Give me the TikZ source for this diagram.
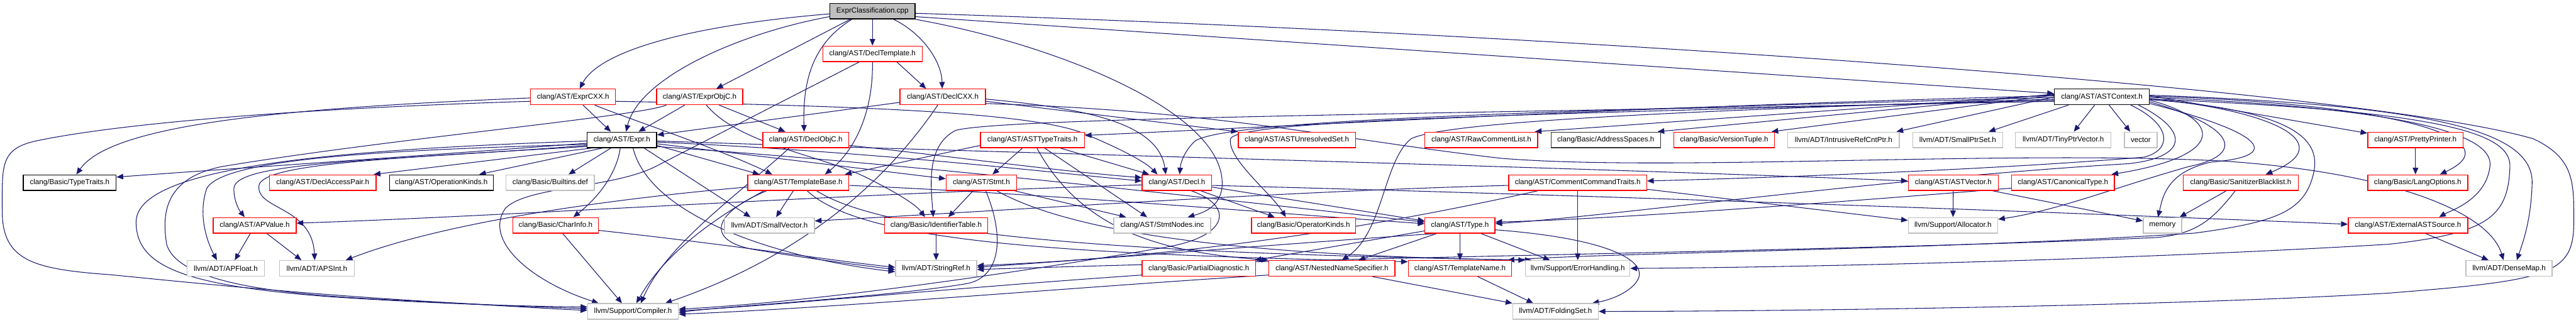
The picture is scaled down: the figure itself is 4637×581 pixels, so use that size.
\documentclass[tikz,border=0pt]{standalone}
\usepackage{fontspec}
\newfontfamily\lab{Liberation Sans}
\usetikzlibrary{arrows.meta}
\definecolor{edgec}{HTML}{191970}
\definecolor{grayb}{HTML}{BFBFBF}
\definecolor{rootf}{HTML}{BFBFBF}
\pgfdeclarelayer{bgfill}
\pgfdeclarelayer{edges}
\pgfsetlayers{bgfill,edges,main}
\begin{document}
\begin{tikzpicture}[x=1pt,y=-1pt,
  box/.style={draw, fill=white, line width=1.6pt, minimum height=28pt, inner sep=0pt, font=\lab\fontsize{13.2}{15}\selectfont, text=black},
  rbox/.style={box, draw=red},
  gbox/.style={box, draw=grayb},
  kbox/.style={box, draw=black},
  e/.style={draw=edgec, line width=1.2pt, -{Triangle[length=12pt,width=10pt]}}]
\begin{pgfonlayer}{bgfill}
\fill[white] (0,0) rectangle (4637,581);
\end{pgfonlayer}
\useasboundingbox (0,0) rectangle (4637,581);
% row 0
\node[kbox, fill=rootf, minimum width=153pt] (root) at (1570.5,20) {ExprClassification.cpp};
% row 1
\node[rbox, minimum width=179pt] (dtpl) at (1570.5,97) {clang/AST/DeclTemplate.h};
% row 2
\node[rbox, minimum width=153pt] (ecxx) at (1031.5,174.5) {clang/AST/ExprCXX.h};
\node[rbox, minimum width=155pt] (eobjc) at (1259.5,174.5) {clang/AST/ExprObjC.h};
\node[rbox, minimum width=154pt] (dcxx) at (1697,174.5) {clang/AST/DeclCXX.h};
\node[kbox, minimum width=171pt] (astctx) at (3783.5,174.5) {clang/AST/ASTContext.h};
% row 3
\node[kbox, minimum width=125pt] (expr) at (1119.5,252) {clang/AST/Expr.h};
\node[rbox, minimum width=155pt] (dobjc) at (1450.5,252) {clang/AST/DeclObjC.h};
\node[rbox, minimum width=187pt] (asttt) at (1858.5,252) {clang/AST/ASTTypeTraits.h};
\node[rbox, minimum width=211pt] (aus) at (2334.5,252) {clang/AST/ASTUnresolvedSet.h};
\node[rbox, minimum width=203pt] (rcl) at (2666.5,252) {clang/AST/RawCommentList.h};
\node[kbox, draw=black!80, minimum width=197pt] (addr) at (2890.5,252) {clang/Basic/AddressSpaces.h};
\node[rbox, minimum width=181pt] (vtup) at (3103.5,252) {clang/Basic/VersionTuple.h};
\node[gbox, minimum width=201pt] (irc) at (3318.5,252) {llvm/ADT/IntrusiveRefCntPtr.h};
\node[gbox, minimum width=162pt] (sps) at (3524,252) {llvm/ADT/SmallPtrSet.h};
\node[gbox, minimum width=172pt] (tpv) at (3714,252) {llvm/ADT/TinyPtrVector.h};
\node[gbox, minimum width=59pt] (vec) at (3853.5,252) {vector};
\node[rbox, minimum width=172pt] (pp) at (4348,252) {clang/AST/PrettyPrinter.h};
% row 4
\node[kbox, minimum width=167pt] (tt) at (125.5,329) {clang/Basic/TypeTraits.h};
\node[rbox, minimum width=192pt] (dap) at (581,329) {clang/AST/DeclAccessPair.h};
\node[kbox, minimum width=187pt] (opk) at (794.5,329) {clang/AST/OperationKinds.h};
\node[gbox, minimum width=159pt] (bdef) at (990.5,329) {clang/Basic/Builtins.def};
\node[rbox, minimum width=182pt] (tb) at (1437,329) {clang/AST/TemplateBase.h};
\node[rbox, minimum width=127pt] (stmt) at (1766.5,329) {clang/AST/Stmt.h};
\node[rbox, minimum width=125pt] (decl) at (2118.5,329) {clang/AST/Decl.h};
\node[rbox, minimum width=248pt] (cct) at (2840,329) {clang/AST/CommentCommandTraits.h};
\node[rbox, minimum width=162pt] (astv) at (3516,329) {clang/AST/ASTVector.h};
\node[rbox, minimum width=185pt] (cant) at (3713.5,329) {clang/AST/CanonicalType.h};
\node[rbox, minimum width=207pt] (sbl) at (4033.5,329) {clang/Basic/SanitizerBlacklist.h};
\node[rbox, minimum width=180pt] (lopt) at (4352,329) {clang/Basic/LangOptions.h};
% row 5
\node[rbox, minimum width=149pt] (apv) at (458.5,406) {clang/AST/APValue.h};
\node[rbox, minimum width=154pt] (chi) at (1000,406) {clang/Basic/CharInfo.h};
\node[gbox, minimum width=162pt] (svec) at (1385,406) {llvm/ADT/SmallVector.h};
\node[rbox, minimum width=186pt] (idt) at (1685,406) {clang/Basic/IdentifierTable.h};
\node[gbox, minimum width=174pt] (sni) at (2092,406) {clang/AST/StmtNodes.inc};
\node[rbox, minimum width=187pt] (ork) at (2346.5,406) {clang/Basic/OperatorKinds.h};
\node[rbox, minimum width=126pt] (type) at (2628,406) {clang/AST/Type.h};
\node[gbox, minimum width=161pt] (alloc) at (3515.5,406) {llvm/Support/Allocator.h};
\node[gbox, minimum width=69pt] (mem) at (3892.5,406) {memory};
\node[rbox, minimum width=215pt] (ext) at (4334.5,406) {clang/AST/ExternalASTSource.h};
% row 6
\node[gbox, minimum width=139pt] (apf) at (406.5,483.5) {llvm/ADT/APFloat.h};
\node[gbox, minimum width=135pt] (aps) at (570.5,483.5) {llvm/ADT/APSInt.h};
\node[gbox, minimum width=146pt] (sref) at (1685,483.5) {llvm/ADT/StringRef.h};
\node[rbox, minimum width=204pt] (pdiag) at (2158,483.5) {clang/Basic/PartialDiagnostic.h};
\node[rbox, minimum width=227pt] (nns) at (2397.5,483.5) {clang/AST/NestedNameSpecifier.h};
\node[rbox, minimum width=186pt] (tname) at (2628,483.5) {clang/AST/TemplateName.h};
\node[gbox, minimum width=188pt] (errh) at (2840,483.5) {llvm/Support/ErrorHandling.h};
\node[gbox, minimum width=155pt] (dmap) at (4516.5,483.5) {llvm/ADT/DenseMap.h};
% row 7
\node[gbox, minimum width=163pt] (comp) at (1139.5,561) {llvm/Support/Compiler.h};
\node[gbox, minimum width=154pt] (fset) at (2800,561) {llvm/ADT/FoldingSet.h};

\begin{pgfonlayer}{edges}
% ---- root
\draw[e] ([yshift=-5pt]root.west) .. controls (1250,45) and (1080,90) .. ([xshift=12pt]ecxx.north);
\draw[e] ([yshift=-10pt]root.west) .. controls (1330,60) and (1150,140) .. ([xshift=7.5pt]expr.north);
\draw[e] ([xshift=-40pt]root.south) -- ([xshift=30pt]eobjc.north);
\draw[e] ([xshift=-37pt]root.south) .. controls (1460,80) and (1445,150) .. ([xshift=-3pt]dobjc.north);
\draw[e] (root.south) -- (dtpl.north);
\draw[e] ([xshift=38pt]root.south) .. controls (1660,60) and (1695,110) .. ([xshift=-1pt]dcxx.north);
\draw[e] ([yshift=-10pt]root.east) -- ([yshift=6pt]astctx.west);
\draw[e] ([yshift=-4pt]root.east) .. controls (2800,60) and (4250,160) .. (4560,250) .. controls (4635,285) and (4633,330) .. (4633,400) .. controls (4633,495) and (4590,505) .. (4300,528) .. controls (3900,552) and (3200,561) .. (fset.east);
\draw[e] (root.south east) .. controls (1900,80) and (2200,200) .. (2200,330) .. controls (2200,370) and (2170,382) .. ([xshift=46pt]sni.north);
% ---- DeclTemplate
\draw[e] ([xshift=44pt]dtpl.south) -- ([xshift=-30pt]dcxx.north);
\draw[e] (dtpl.south) .. controls (1572,200) and (1540,270) .. ([xshift=48pt]tb.north);
\draw[e] ([xshift=-24pt]dtpl.south) -- (1180,300) .. controls (1100,340) and (950,335) .. (910,375) .. controls (870,430) and (950,505) .. ([xshift=-62pt]comp.north);
% ---- ExprCXX
\draw[e] ([xshift=18pt]ecxx.south) -- ([xshift=-20pt]expr.north);
\draw[e] ([yshift=-2pt]ecxx.west) .. controls (500,195) and (200,225) .. ([xshift=12pt]tt.north);
\draw[e] ([yshift=-8pt]ecxx.west) .. controls (400,200) and (150,235) .. (60,255) .. controls (0,270) and (4,300) .. (4,380) .. controls (4,470) and (60,485) .. (200,495) .. controls (400,515) and (700,545) .. ([yshift=5pt]comp.west);
\draw[e] ([yshift=-8pt]ecxx.east) .. controls (1500,190) and (1850,200) .. (1950,240) .. controls (2010,265) and (2060,290) .. ([xshift=-35pt]decl.north);
\draw[e] ([xshift=39pt]ecxx.south) .. controls (1120,210) and (1300,270) .. ([xshift=-47pt]tb.north);
% ---- ExprObjC
\draw[e] ([xshift=-27pt]eobjc.south) -- ([xshift=30pt]expr.north);
\draw[e] ([xshift=35pt]eobjc.south) -- ([xshift=-37pt]dobjc.north);
\draw[e] ([xshift=12pt]eobjc.south) .. controls (1330,260) and (1480,280) .. (1560,320) .. controls (1620,350) and (1650,370) .. ([xshift=-20pt]idt.north);
\draw[e] ([xshift=-60pt]eobjc.south) .. controls (1150,210) and (700,250) .. (400,300) .. controls (300,320) and (290,380) .. (300,440) .. controls (320,510) and (500,530) .. (700,540) .. controls (900,550) and (1000,557) .. ([yshift=2pt]comp.west);
% ---- DeclCXX
\draw[e] ([yshift=-10pt]dcxx.west) -- ([yshift=9pt]expr.east);
\draw[e] ([xshift=-9pt]dcxx.south) .. controls (1600,320) and (1450,460) .. ([xshift=58pt]comp.north);
\draw[e] ([yshift=-4pt]dcxx.east) .. controls (1950,195) and (2085,220) .. ([xshift=-20pt]decl.north);
\draw[e] ([yshift=-8pt]dcxx.east) -- (aus.north west);
\draw[e] ([yshift=-12pt]dcxx.east) .. controls (2200,200) and (2400,250) .. (2700,285) .. controls (3000,310) and (3600,270) .. (4000,290) .. controls (4300,310) and (4480,380) .. ([xshift=-10pt]dmap.north);
% ---- DeclObjC
\draw[e] ([xshift=-30pt]dobjc.south) .. controls (1330,350) and (1200,440) .. ([xshift=14pt]comp.north);
\draw[e] ([yshift=-10pt]dobjc.east) .. controls (1700,280) and (1900,308) .. ([yshift=9pt]decl.west);
% ---- Expr
\draw[e] ([yshift=-6pt]expr.west) .. controls (700,285) and (400,305) .. ([yshift=10pt]tt.east);
\draw[e] ([xshift=-55pt]expr.south) -- ([xshift=-5pt]dap.north east);
\draw[e] ([xshift=-35pt]expr.south) -- ([xshift=68pt]opk.north);
\draw[e] ([xshift=-20pt]expr.south) -- ([xshift=33pt]bdef.north);
\draw[e] ([yshift=-10pt]expr.west) .. controls (700,290) and (420,290) .. (421,340) .. controls (421,362) and (430,378) .. ([xshift=-18pt]apv.north);
\draw[e] ([yshift=-8pt]expr.west) .. controls (700,270) and (400,285) .. (372,340) .. controls (355,390) and (375,440) .. ([xshift=-16pt]apf.north);
\draw[e] ([yshift=-12pt]expr.west) .. controls (700,285) and (470,295) .. (466,335) .. controls (462,378) and (562,372) .. ([xshift=-4pt]aps.north);
\draw[e] ([xshift=-3pt]expr.south) .. controls (1112,300) and (1090,345) .. ([xshift=32pt]chi.north);
\draw[e] ([xshift=40pt]expr.south) -- ([xshift=-34pt]svec.north);
\draw[e] ([yshift=-10pt]expr.east) -- ([xshift=-70pt]tb.north);
\draw[e] ([yshift=-7pt]expr.east) -- ([yshift=7pt]stmt.west);
\draw[e] ([yshift=-4pt]expr.east) .. controls (1600,275) and (1900,312) .. ([yshift=3pt]decl.west);
\draw[e] ([yshift=-2pt]expr.east) .. controls (1800,275) and (2800,300) .. ([yshift=3pt]astv.west);
\draw[e] ([yshift=-12pt]expr.east) .. controls (1700,300) and (2200,360) .. ([yshift=6pt]type.west);
\draw[e] ([xshift=20pt]expr.south) .. controls (1170,390) and (1400,465) .. ([yshift=-6pt]sref.west);
\draw[e] ([yshift=-2pt]expr.west) .. controls (600,270) and (245,300) .. (245,400) .. controls (245,480) and (330,515) .. (600,535) .. controls (800,548) and (950,552) .. ([yshift=8pt]comp.west);
% ---- TemplateBase
\draw[e] ([xshift=-9pt]tb.south) -- ([xshift=12pt]svec.north);
\draw[e] ([xshift=-57pt]tb.south) .. controls (1280,385) and (1270,435) .. (1360,450) .. controls (1450,465) and (1550,478) .. ([yshift=-2pt]sref.west);
\draw[e] ([xshift=-62pt]tb.south) .. controls (1300,385) and (1200,450) .. ([xshift=6pt]comp.north);
\draw[e] ([yshift=-8pt]tb.west) .. controls (1100,358) and (800,400) .. ([xshift=52pt]aps.north);
\draw[e] ([yshift=-5pt]tb.east) .. controls (1900,350) and (2300,385) .. ([yshift=3pt]type.west);
\draw[e] ([xshift=16pt]tb.south) .. controls (1550,435) and (1900,458) .. ([yshift=12pt]tname.west);
\draw[e] ([xshift=33pt]tb.south) .. controls (1620,440) and (2200,458) .. (errh.north west);
% ---- ASTTypeTraits
\draw[e] ([xshift=-18pt]asttt.south) -- ([xshift=20pt]stmt.north);
\draw[e] ([xshift=8pt]asttt.south) .. controls (1950,420) and (2100,455) .. (nns.north west);
\draw[e] ([xshift=22pt]asttt.south) -- ([xshift=-27pt]sni.north);
\draw[e] ([xshift=50pt]asttt.south) -- ([xshift=-50pt]decl.north);
\draw[e] ([yshift=-10pt]asttt.west) -- ([xshift=-8pt]tb.north east);
% ---- Stmt
\draw[e] ([xshift=-15pt]stmt.south) -- ([xshift=22pt]idt.north);
\draw[e] ([xshift=8pt]stmt.south) .. controls (1810,430) and (1800,500) .. (1740,511) .. controls (1600,535) and (1300,552) .. ([yshift=-2pt]comp.east);
\draw[e] ([xshift=60pt]stmt.south) -- ([xshift=-65pt]sni.north);
\draw[e] ([xshift=28pt]stmt.south) .. controls (1950,430) and (2300,462) .. ([xshift=12pt]errh.north west);
% ---- Decl
\draw[e] ([xshift=26pt]decl.south) .. controls (2220,370) and (2215,425) .. (2100,445) .. controls (1900,480) and (1500,542) .. ([yshift=4pt]comp.east);
\draw[e] ([xshift=43pt]decl.south) -- ([xshift=-52pt]ork.north);
\draw[e] ([yshift=-4pt]decl.west) .. controls (1500,350) and (900,390) .. ([yshift=4pt]apv.east);
\draw[e] ([yshift=-8pt]decl.east) -- ([yshift=8pt]type.west);
\draw[e] ([yshift=-5pt]decl.east) .. controls (2800,350) and (3600,378) .. ([yshift=2pt]ext.west);
% ---- Type
\draw[e] (type.south) -- (tname.north);
\draw[e] ([xshift=-42pt]type.south) -- ([xshift=48pt]nns.north);
\draw[e] ([xshift=38pt]type.south) -- ([xshift=-50pt]errh.north);
\draw[e] ([yshift=-8pt]type.east) .. controls (2900,430) and (2960,470) .. (2950,500) .. controls (2940,525) and (2900,540) .. ([xshift=66pt]fset.north);
\draw[e] ([yshift=-10pt]type.west) -- ([xshift=-2pt]pdiag.north east);
\draw[e] ([xshift=-44pt]type.south) .. controls (2300,440) and (2000,465) .. ([yshift=2pt]sref.east);
% ---- NNS, TemplateName, PartialDiagnostic
\draw[e] ([xshift=73pt]nns.south) -- (fset.north west);
\draw[e] ([yshift=-12pt]nns.west) .. controls (1900,520) and (1500,555) .. ([yshift=-5pt]comp.east);
\draw[e] ([xshift=32pt]tname.south) -- ([xshift=-40pt]fset.north);
\draw[e] ([yshift=-12pt]pdiag.west) .. controls (1700,520) and (1400,550) .. ([yshift=1pt]comp.east);
% ---- CommentCommandTraits
\draw[e] (cct.south) -- (errh.north);
\draw[e] ([yshift=-12pt]cct.east) -- ([yshift=9pt]alloc.west);
\draw[e] ([yshift=-5pt]cct.west) .. controls (2300,345) and (1800,380) .. ([yshift=8pt]svec.east);
\draw[e] ([xshift=-72pt]cct.south) .. controls (2550,392) and (2200,460) .. ([yshift=5pt]sref.east);
% ---- ASTVector, CanonicalType, SanitizerBlacklist, PrettyPrinter, ExternalASTSource
\draw[e] (astv.south) -- (alloc.north);
\draw[e] ([xshift=71pt]astv.south) -- ([yshift=8pt]mem.west);
\draw[e] ([yshift=-10pt]cant.west) .. controls (3300,365) and (2900,395) .. ([yshift=6pt]type.east);
\draw[e] ([xshift=-26pt]sbl.south) -- ([xshift=31pt]mem.north);
\draw[e] ([xshift=-10pt]sbl.south) .. controls (3980,400) and (3950,422) .. (3880,428) .. controls (3400,450) and (2500,462) .. ([yshift=-2pt]sref.east);
\draw[e] (pp.south) -- ([xshift=-4pt]lopt.north);
\draw[e] ([xshift=32pt]ext.south) -- ([xshift=-37pt]dmap.north);
% ---- APValue, CharInfo, IdentifierTable
\draw[e] ([xshift=-8pt]apv.south) -- ([xshift=16pt]apf.north);
\draw[e] ([xshift=22pt]apv.south) -- ([xshift=-28pt]aps.north);
\draw[e] ([xshift=13pt]chi.south) -- ([xshift=-20pt]comp.north);
\draw[e] ([yshift=-9pt]chi.east) .. controls (1350,445) and (1500,470) .. ([yshift=2pt]sref.west);
\draw[e] (idt.south) -- (sref.north);
% ---- ASTContext
\draw[e] ([yshift=2pt]astctx.west) .. controls (3000,190) and (2300,228) .. ([yshift=8pt]asttt.east);
\draw[e] ([yshift=-1pt]astctx.west) .. controls (2800,200) and (2200,215) .. (2150,255) .. controls (2130,275) and (2125,295) .. ([xshift=5pt]decl.north);
\draw[e] ([yshift=-4pt]astctx.west) .. controls (3000,200) and (2600,220) .. (2540,250) .. controls (2490,290) and (2490,420) .. ([xshift=18pt]nns.north);
\draw[e] ([yshift=-6pt]astctx.west) .. controls (2800,205) and (2230,215) .. (2215,250) .. controls (2208,285) and (2290,350) .. ([xshift=-32pt]ork.north);
\draw[e] ([yshift=-8pt]astctx.west) .. controls (2600,205) and (1800,212) .. (1720,235) .. controls (1668,262) and (1675,330) .. ([xshift=-5pt]idt.north);
\draw[e] ([yshift=4pt]astctx.west) -- ([xshift=-6pt]rcl.north east);
\draw[e] ([yshift=5pt]astctx.west) -- ([xshift=-6pt]addr.north east);
\draw[e] ([yshift=3pt]astctx.west) -- ([xshift=-6pt]vtup.north east);
\draw[e] ([yshift=0pt]astctx.west) -- ([xshift=-6pt]irc.north east);
\draw[e] ([xshift=-60pt]astctx.south) -- ([xshift=-26pt]sps.north east);
\draw[e] ([xshift=-13pt]astctx.south) -- ([xshift=19pt]tpv.north);
\draw[e] ([xshift=13pt]astctx.south) -- ([xshift=-19pt]vec.north);
\draw[e] ([xshift=66pt]astctx.south) .. controls (3950,240) and (3930,285) .. (3830,295) .. controls (3400,320) and (2900,390) .. ([yshift=3pt]type.east);
\draw[e] ([xshift=52pt]astctx.south) .. controls (3910,225) and (3910,270) .. (3860,283) .. controls (3600,305) and (3200,320) .. ([yshift=3pt]cct.east);
\draw[e] ([yshift=-5pt]astctx.east) .. controls (4150,200) and (4175,260) .. (4165,310) .. controls (4150,380) and (4100,400) .. (3950,420) .. controls (3500,450) and (2900,455) .. ([xshift=-8pt]tname.north east);
\draw[e] ([yshift=-6pt]astctx.east) .. controls (4000,215) and (4010,280) .. ([xshift=-6pt]cant.north east);
\draw[e] ([yshift=-9pt]astctx.east) .. controls (4030,230) and (4040,280) .. (3940,300) .. controls (3800,340) and (3700,380) .. ([yshift=11pt]alloc.east);
\draw[e] ([yshift=-12pt]astctx.east) .. controls (4080,240) and (4110,282) .. (3980,292) .. controls (3900,310) and (3893,355) .. ([xshift=-8pt]mem.north);
\draw[e] ([yshift=-3pt]astctx.east) .. controls (4100,200) and (4210,260) .. ([xshift=45pt]sbl.north);
\draw[e] ([yshift=2pt]astctx.east) -- ([yshift=12pt]pp.west);
\draw[e] ([yshift=1pt]astctx.east) .. controls (4300,185) and (4530,250) .. ([xshift=40pt]lopt.north);
\draw[e] ([yshift=-1pt]astctx.east) .. controls (4350,195) and (4490,245) .. (4482,300) .. controls (4475,360) and (4410,380) .. ([xshift=56pt]ext.north);
\draw[e] ([yshift=3pt]astctx.east) .. controls (4400,190) and (4560,240) .. (4558,330) .. controls (4556,400) and (4540,440) .. ([xshift=14pt]dmap.north);
\draw[e] ([yshift=-4pt]astctx.east) .. controls (4400,200) and (4520,240) .. (4518,300) .. controls (4515,390) and (4480,420) .. (4300,440) .. controls (3800,470) and (3200,482) .. (errh.east);
\end{pgfonlayer}
\end{tikzpicture}
\end{document}
